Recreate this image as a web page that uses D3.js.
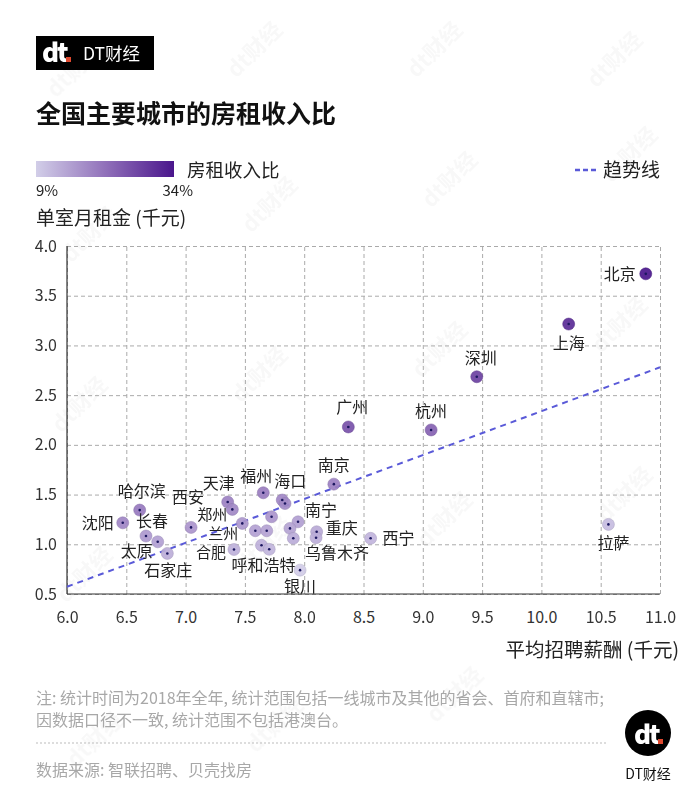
<!DOCTYPE html>
<html><head><meta charset="utf-8">
<script src="https://cdn.jsdelivr.net/npm/d3@7"></script>
<style>body{margin:0;background:#fff}svg{display:block}text{font-family:"Noto Sans CJK SC","Noto Sans",sans-serif}</style>
</head><body><svg id="c" width="700" height="793"></svg>
<script>
const cities   = ["北京","上海","深圳","杭州","广州","南京","拉萨","天津","郑州","兰州","福州","海口","成都","武汉","长沙","济南","南宁","昆明","贵阳","呼和浩特","南昌","合肥","重庆","乌鲁木齐","西宁","银川","沈阳","哈尔滨","长春","太原","石家庄","西安"];
const salary   = [10.88,10.23,9.455,9.07,8.372,8.25,10.565,7.355,7.394,7.478,7.655,7.815,7.838,7.725,7.588,7.684,7.948,7.88,7.908,7.64,7.705,7.408,8.105,8.10,8.56,7.965,6.47,6.613,6.666,6.765,6.846,7.046];
const rent     = [3.72,3.215,2.685,2.15,2.18,1.605,1.20,1.425,1.351,1.21,1.518,1.445,1.41,1.277,1.136,1.136,1.226,1.16,1.06,0.99,0.95,0.948,1.126,1.066,1.06,0.74,1.216,1.344,1.083,1.025,0.908,1.17];
const xTicks   = [6.0,6.5,7.0,7.5,8.0,8.5,9.0,9.5,10.0,10.5,11.0];
const yTicks   = [0.5,1.0,1.5,2.0,2.5,3.0,3.5,4.0];
const trendX   = [6.0,11.0];
const trendY   = [0.573,2.78];
const ratioDomain = [0.09,0.34];
const ratioLabels = ["9%","34%"];

// label placement (style only): dx, dy, anchor, font size
const labelPos = {
 "北京":[-10,6,"end",16],"上海":[0,25,"middle",16],"深圳":[4,-13,"middle",16],"杭州":[0,-13,"middle",16],
 "广州":[4,-14,"middle",16],"南京":[0,-13,"middle",16],"拉萨":[5,25,"middle",16],"天津":[-9,-13,"middle",16],
 "西安":[-3,-24,"middle",16],"郑州":[-5,11,"end",15],"兰州":[-4,16,"end",15],"合肥":[-8,9,"end",15],
 "呼和浩特":[2,26,"middle",16],"福州":[-7,-11,"middle",16],"海口":[8,-13,"middle",16],"南宁":[7,-6,"start",16],
 "重庆":[9,2,"start",16],"乌鲁木齐":[21,21,"middle",16],"西宁":[12,6,"start",16],"银川":[0,22,"middle",16],
 "沈阳":[-9,6,"end",16],"哈尔滨":[2,-13,"middle",16],"长春":[6,-9,"middle",16],"太原":[-5,15,"end",16],"石家庄":[1,23,"middle",16]
};

const svg = d3.select("#c");
// faint watermarks
const wm = svg.append("g").attr("fill","#000").attr("opacity",0.03);
[[80,75],[260,55],[440,55],[620,65],[95,240],[275,210],[455,185],[635,160],[85,410],[265,380],[445,355],[625,330],[90,580],[270,550],[450,525],[630,500],[100,745],[280,730],[460,700]].forEach(p=>{
  wm.append("text").attr("transform",`translate(${p[0]},${p[1]}) rotate(-45)`).attr("font-size",22).attr("font-weight",700).attr("text-anchor","middle").text("dt财经");
});

// top logo
svg.append("rect").attr("x",36).attr("y",36).attr("width",118).attr("height",34).attr("fill","#000");
svg.append("text").attr("x",42).attr("y",62).attr("fill","#fff").attr("font-size",26).attr("font-weight",900).attr("font-family","DejaVu Sans").attr("letter-spacing",-2).text("dt");
svg.append("rect").attr("x",66).attr("y",57).attr("width",5).attr("height",5).attr("fill","#e0492f");
svg.append("text").attr("x",83).attr("y",60).attr("fill","#fff").attr("font-size",17.5).text("DT财经");

// title
svg.append("text").attr("x",36).attr("y",123).attr("font-size",25).attr("font-weight",700).attr("fill","#111").text("全国主要城市的房租收入比");

// color scale
const color = d3.scaleLinear().domain(ratioDomain).range(["#d2cee8","#4a168c"]).interpolate(d3.interpolateLab).clamp(true);

// legend gradient
const defs = svg.append("defs");
const grad = defs.append("linearGradient").attr("id","g1");
grad.append("stop").attr("offset","0%").attr("stop-color",color(ratioDomain[0]));
grad.append("stop").attr("offset","50%").attr("stop-color",color((ratioDomain[0]+ratioDomain[1])/2));
grad.append("stop").attr("offset","100%").attr("stop-color",color(ratioDomain[1]));
svg.append("rect").attr("x",36).attr("y",161).attr("width",138).attr("height",16).attr("fill","url(#g1)");
svg.append("text").attr("x",187).attr("y",177).attr("font-size",18.5).attr("fill","#222").text("房租收入比");
svg.append("text").attr("x",36).attr("y",196).attr("font-size",15).attr("fill","#222").text(ratioLabels[0]);
svg.append("text").attr("x",193).attr("y",196).attr("font-size",15).attr("fill","#222").attr("text-anchor","end").text(ratioLabels[1]);
svg.append("line").attr("x1",575).attr("x2",598).attr("y1",170).attr("y2",170).attr("stroke","#5a5ad8").attr("stroke-width",2.5).attr("stroke-dasharray","5,3");
svg.append("text").attr("x",603).attr("y",177).attr("font-size",19).attr("fill","#222").text("趋势线");

svg.append("text").attr("x",36).attr("y",225).attr("font-size",19).attr("fill","#222").text("单室月租金 (千元)");

// plot
const L=67,T=246,W=593,H=348;
const x = d3.scaleLinear().domain([6,11]).range([0,W]);
const y = d3.scaleLinear().domain([0.5,4]).range([H,0]);
const g = svg.append("g").attr("transform",`translate(${L},${T})`);

const gx = g.append("g").attr("transform",`translate(0,${H})`)
  .call(d3.axisBottom(x).tickValues(xTicks).tickFormat(d3.format(".1f")).tickSize(-H).tickPadding(15));
gx.select(".domain").remove();
gx.selectAll(".tick line").attr("stroke","#aaa").attr("stroke-dasharray","4,3");
gx.selectAll(".tick text").attr("font-size",16).attr("fill","#333").attr("font-family","Lato, sans-serif").attr("dy","0.9em");

const gy = g.append("g").call(d3.axisLeft(y).tickValues(yTicks).tickFormat(d3.format(".1f")).tickSize(-W).tickPadding(10));
gy.select(".domain").remove();
gy.selectAll(".tick line").attr("stroke","#aaa").attr("stroke-dasharray","4,3");
gy.selectAll(".tick text").attr("font-size",16).attr("fill","#333").attr("font-family","Lato, sans-serif");

g.append("line").attr("x1",0).attr("x2",0).attr("y1",0).attr("y2",H).attr("stroke","#333").attr("stroke-width",1.2);
g.append("line").attr("x1",0).attr("x2",W).attr("y1",H).attr("y2",H).attr("stroke","#333").attr("stroke-width",1.2);

// trend
g.append("line").attr("x1",x(trendX[0])).attr("y1",y(trendY[0])).attr("x2",x(trendX[1])).attr("y2",y(trendY[1]))
 .attr("stroke","#5a5ad8").attr("stroke-width",2).attr("stroke-dasharray","6,5");

const data = cities.map((c,i)=>({c, s:salary[i], r:rent[i], q:rent[i]/salary[i]}));
const pts = g.append("g");
pts.selectAll("circle.o").data(data).join("circle").attr("class","o")
  .attr("cx",d=>x(d.s)).attr("cy",d=>y(d.r)).attr("r",6)
  .attr("fill",d=>color(d.q)).attr("fill-opacity",0.92)
  .attr("stroke",d=>d3.color(color(d.q)).darker(0.4)).attr("stroke-opacity",0.5).attr("stroke-width",1);
pts.selectAll("circle.i").data(data).join("circle").attr("class","i")
  .attr("cx",d=>x(d.s)).attr("cy",d=>y(d.r)).attr("r",1.3).attr("fill","#1c1760");

g.append("g").selectAll("text").data(data.filter(d=>labelPos[d.c])).join("text")
  .attr("x",d=>x(d.s)+labelPos[d.c][0]).attr("y",d=>y(d.r)+labelPos[d.c][1])
  .attr("text-anchor",d=>labelPos[d.c][2]).attr("font-size",d=>labelPos[d.c][3]).attr("fill","#222").text(d=>d.c);

svg.append("text").attr("x",679).attr("y",657).attr("text-anchor","end").attr("font-size",19.5).attr("fill","#222").text("平均招聘薪酬 (千元)");

// footer
svg.append("text").attr("x",36).attr("y",704).attr("font-size",16).attr("fill","#a8a8a8").text("注: 统计时间为2018年全年, 统计范围包括一线城市及其他的省会、首府和直辖市;");
svg.append("text").attr("x",36).attr("y",726).attr("font-size",16).attr("fill","#a8a8a8").text("因数据口径不一致, 统计范围不包括港澳台。");
svg.append("line").attr("x1",36).attr("x2",606).attr("y1",743).attr("y2",743).attr("stroke","#bbb").attr("stroke-dasharray","2,2");
svg.append("text").attr("x",36).attr("y",776).attr("font-size",16).attr("fill","#a8a8a8").text("数据来源: 智联招聘、贝壳找房");
svg.append("circle").attr("cx",648).attr("cy",733).attr("r",23).attr("fill","#000");
svg.append("text").attr("x",634).attr("y",744).attr("fill","#fff").attr("font-size",26).attr("font-weight",900).attr("font-family","DejaVu Sans").attr("letter-spacing",-2).text("dt");
svg.append("rect").attr("x",658).attr("y",739).attr("width",5).attr("height",5).attr("fill","#e0492f");
svg.append("text").attr("x",648).attr("y",779).attr("text-anchor","middle").attr("font-size",14).attr("fill","#111").text("DT财经");
</script></body></html>
